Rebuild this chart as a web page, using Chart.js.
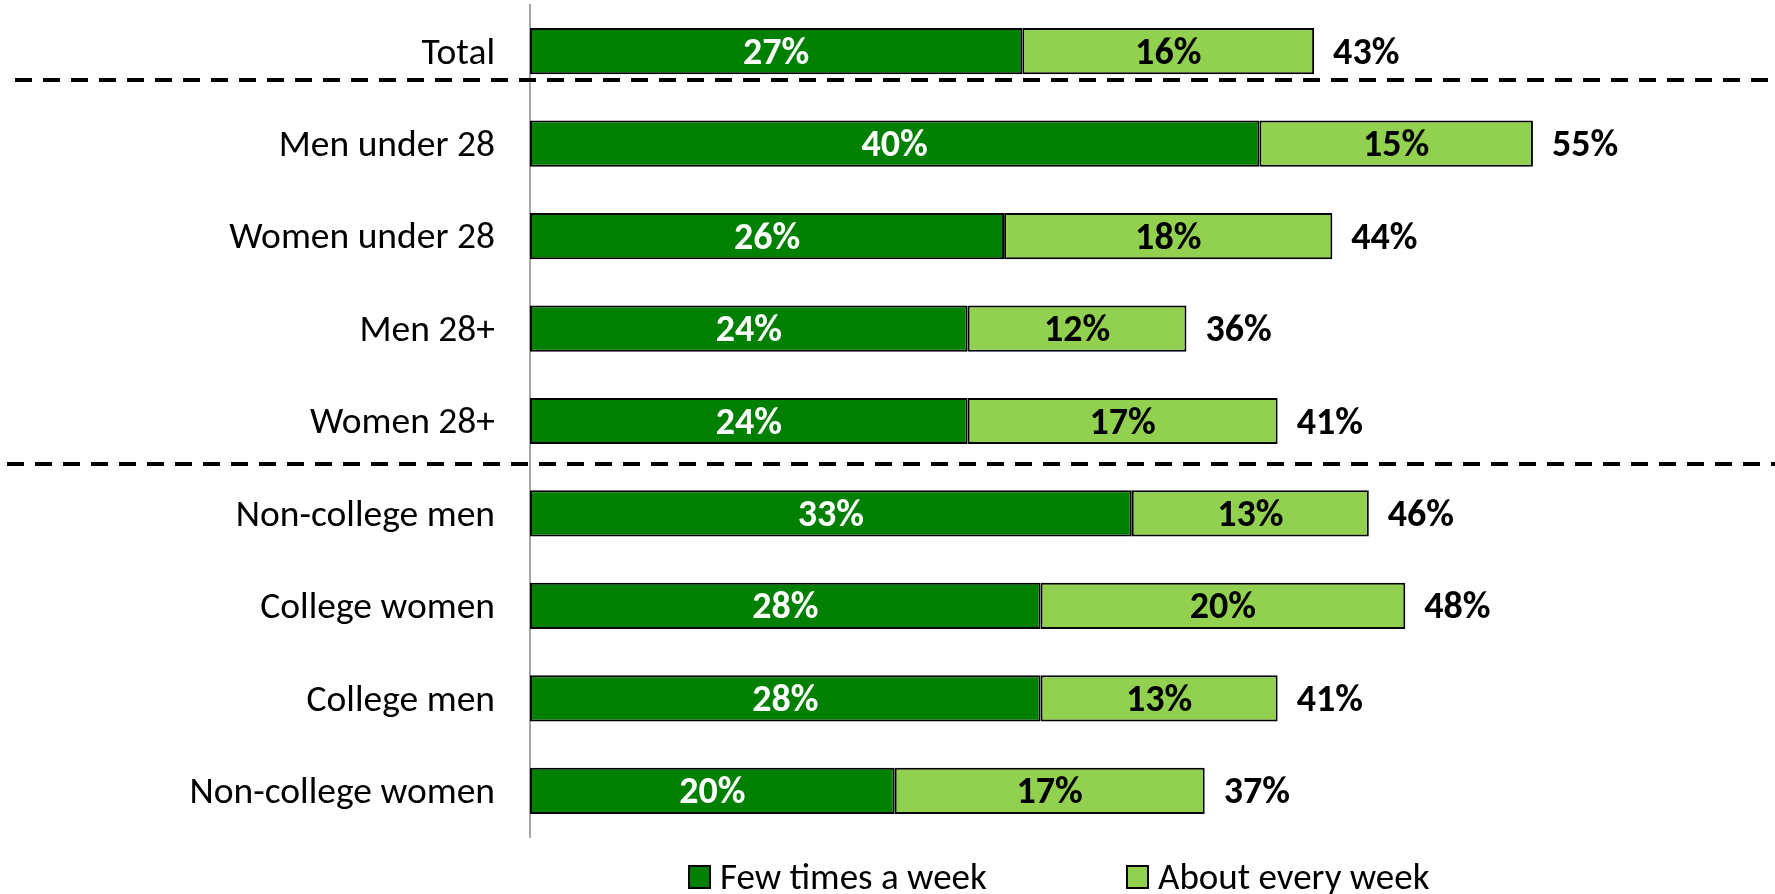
<!DOCTYPE html>
<html>
<head>
<meta charset="utf-8">
<script src="https://cdn.jsdelivr.net/npm/chart.js@4/dist/chart.umd.min.js"></script>
<style>
html,body{margin:0;padding:0;background:#fff;}
#wrap{width:1775px;height:894px;position:relative;}
</style>
</head>
<body>
<div id="wrap"><canvas id="c" width="1775" height="894"></canvas></div>
<script>
const categories = ["Total","Men under 28","Women under 28","Men 28+","Women 28+","Non-college men","College women","College men","Non-college women"];
const fewTimes = [27,40,26,24,24,33,28,28,20];
const everyWeek = [16,15,18,12,17,13,20,13,17];
const totals = [43,55,44,36,41,46,48,41,37];
const seriesNames = ["Few times a week","About every week"];

const FONT = "Carlito, Calibri, Lato, sans-serif";
const DARK = "#008000";
const LIGHT = "#92D050";

const overlay = {
  id: "overlay",
  afterDatasetsDraw(chart) {
    const ctx = chart.ctx;
    const m0 = chart.getDatasetMeta(0), m1 = chart.getDatasetMeta(1);
    ctx.save();
    ctx.textBaseline = "middle";
    ctx.font = "bold 38px " + FONT;
    ctx.textAlign = "center";
    m0.data.forEach((el, i) => {
      ctx.fillStyle = "#ffffff";
      ctx.fillText(fewTimes[i] + "%", (el.x + el.base) / 2, el.y + 3);
    });
    m1.data.forEach((el, i) => {
      ctx.fillStyle = "#000000";
      ctx.textAlign = "center";
      ctx.fillText(everyWeek[i] + "%", (el.x + el.base) / 2, el.y + 3);
      ctx.textAlign = "left";
      ctx.fillText(totals[i] + "%", el.x + 19, el.y + 3);
    });
    // dashed separators
    const ys = chart.scales.y;
    ctx.strokeStyle = "#000";
    ctx.lineWidth = 4;
    ctx.setLineDash([17, 11]);
    const sep = [[0.31, 15], [4.47, 7]];
    sep.forEach(([v, x0]) => {
      const y = Math.round(ys.getPixelForValue(v));
      ctx.beginPath();
      ctx.moveTo(x0, y);
      ctx.lineTo(chart.width, y);
      ctx.stroke();
    });
    ctx.setLineDash([]);
    // legend
    ctx.font = "37px " + FONT;
    ctx.textAlign = "left";
    const ly = 877;
    const items = [[689, DARK], [1127, LIGHT]];
    items.forEach(([x, col], k) => {
      ctx.fillStyle = col;
      ctx.fillRect(x, ly - 11, 21, 22);
      ctx.lineWidth = 2;
      ctx.strokeStyle = "#000";
      ctx.strokeRect(x, ly - 11, 21, 22);
      ctx.fillStyle = "#000";
      ctx.fillText(seriesNames[k], x + 31, ly + 3);
    });
    ctx.restore();
  }
};

new Chart(document.getElementById("c"), {
  type: "bar",
  data: {
    labels: categories,
    datasets: [
      { label: seriesNames[0], data: fewTimes, backgroundColor: DARK, borderColor: "#000", borderWidth: 2, borderSkipped: false, barPercentage: 0.5, categoryPercentage: 1 },
      { label: seriesNames[1], data: everyWeek, backgroundColor: LIGHT, borderColor: "#000", borderWidth: 2, borderSkipped: false, barPercentage: 0.5, categoryPercentage: 1 }
    ]
  },
  options: {
    indexAxis: "y",
    responsive: false,
    animation: false,
    layout: { padding: { top: 5, bottom: 57, left: 0, right: 5 } },
    plugins: { legend: { display: false }, tooltip: { enabled: false } },
    scales: {
      x: { stacked: true, min: 0, max: 68, display: false },
      y: {
        stacked: true,
        grid: { display: false, drawTicks: false },
        border: { display: true, color: "#A6A6A6", width: 2 },
        ticks: { padding: 35, labelOffset: 3, color: "#000", font: { family: FONT, size: 37.5 } },
        afterFit(scale) { scale.width = 530; scale.paddingTop = 0; scale.paddingBottom = 0; }
      }
    }
  },
  plugins: [overlay]
});
</script>
</body>
</html>
